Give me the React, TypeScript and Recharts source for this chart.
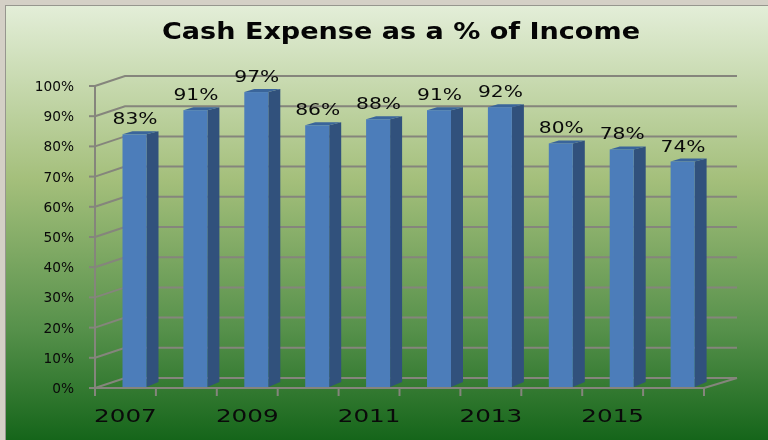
import { BarChart, Bar, XAxis, YAxis, CartesianGrid, LabelList } from 'recharts';

const years = ['2007', '2008', '2009', '2010', '2011', '2012', '2013', '2014', '2015', '2016'];
const cashExpensePct = [83, 91, 97, 86, 88, 91, 92, 80, 78, 74];
const percentTicks = [0, 10, 20, 30, 40, 50, 60, 70, 80, 90, 100];

const data = years.map((year, i) => ({ year, pct: cashExpensePct[i] }));

const GRID = '#85857c';
const FONT = '"DejaVu Sans", sans-serif';
const BAND = 60.9;

// 3D look: the back wall sits up and to the right of the front axes
function WallLine(props: any) {
  const { x1, x2, y1 } = props;
  const isFloor = y1 > 380;
  return (
    <g fill="none" stroke={GRID} strokeWidth={2}>
      <polyline points={`${x1},${y1} ${x1 + 30},${y1 - 10} ${x2 + 33},${y1 - 10}`} />
      {isFloor && <line x1={x2} y1={y1} x2={x2 + 33} y2={y1 - 10} />}
    </g>
  );
}

function Bar3D(props: any) {
  const { x, y, width, height } = props;
  const left = x + 9.5;
  const right = left + width;
  const top = y - 3;
  const bottom = y + height - 1;
  return (
    <g>
      <polygon points={`${right},${top} ${right + 12},${top - 3} ${right + 12},${bottom - 5} ${right},${bottom}`} fill="#31517c" />
      <polygon points={`${left},${top} ${left + 10},${top - 3} ${right + 12},${top - 3} ${right},${top}`} fill="#3a659b" />
      <rect x={left} y={top} width={width} height={bottom - top} fill="#4c7dba" />
    </g>
  );
}

function BarValue(props: any) {
  const { x, y, width, value } = props;
  return (
    <text
      transform={`translate(${x + width / 2 + 10},${y - 13}) scale(1.35,1)`}
      textAnchor="middle"
      fontFamily={FONT}
      fontSize={15}
      fill="#0a0a0a"
    >
      {value}%
    </text>
  );
}

function YearTick(props: any) {
  const { x, y, index, payload } = props;
  const last = index === years.length - 1;
  return (
    <g>
      <line x1={x - BAND / 2} y1={y - 8} x2={x - BAND / 2} y2={y} stroke={GRID} strokeWidth={2} />
      {last && <line x1={x + BAND / 2} y1={y - 8} x2={x + BAND / 2} y2={y} stroke={GRID} strokeWidth={2} />}
      {index % 2 === 0 && (
        <text
          transform={`translate(${x},${y + 26}) scale(1.45,1)`}
          textAnchor="middle"
          fontFamily={FONT}
          fontSize={17}
          fill="#0a0a0a"
        >
          {payload.value}
        </text>
      )}
    </g>
  );
}

function PercentTick(props: any) {
  const { y, payload } = props;
  return (
    <g>
      <line x1={89} y1={y} x2={95} y2={y} stroke={GRID} strokeWidth={2} />
      <text
        transform={`translate(74,${y + 5}) scale(1.02,1)`}
        textAnchor="end"
        fontFamily={FONT}
        fontSize={13.5}
        fill="#0a0a0a"
      >
        {payload.value}%
      </text>
    </g>
  );
}

export default function App() {
  return (
    <div style={{ position: 'absolute', left: 0, top: 0, width: 768, height: 440, overflow: 'hidden', background: '#d4d0c6' }}>
      <div
        style={{
          position: 'absolute',
          left: 5,
          top: 5,
          width: 763,
          height: 435,
          boxSizing: 'border-box',
          borderTop: '1px solid #96968e',
          borderLeft: '1px solid #96968e',
          background: 'linear-gradient(180deg, #e3eed8 0%, #a4bf7b 40%, #55904a 75%, #15651a 100%)',
        }}
      />
      <div style={{ position: 'absolute', left: 0, top: 0, filter: 'blur(0.5px)' }}>
        <BarChart
          width={768}
          height={440}
          data={data}
          margin={{ top: 86, right: 64, left: 0, bottom: 0 }}
          barSize={24}
        >
          <text x={401} y={39} textAnchor="middle" fontFamily={FONT} fontWeight="bold" fontSize={23} textLength={478} lengthAdjust="spacingAndGlyphs" fill="#050505">
            Cash Expense as a % of Income
          </text>
          <CartesianGrid vertical={false} horizontal={(p: any) => <WallLine key={p.index} {...p} />} />
          <XAxis
            dataKey="year"
            interval={0}
            height={52}
            axisLine={{ stroke: GRID, strokeWidth: 2 }}
            tickLine={false}
            tick={YearTick}
          />
          <YAxis
            width={95}
            domain={[0, 100]}
            ticks={percentTicks}
            interval={0}
            axisLine={{ stroke: GRID, strokeWidth: 2 }}
            tickLine={false}
            tick={PercentTick}
          />
          <Bar dataKey="pct" shape={Bar3D} isAnimationActive={false}>
            <LabelList dataKey="pct" content={BarValue} />
          </Bar>
        </BarChart>
      </div>
    </div>
  );
}
